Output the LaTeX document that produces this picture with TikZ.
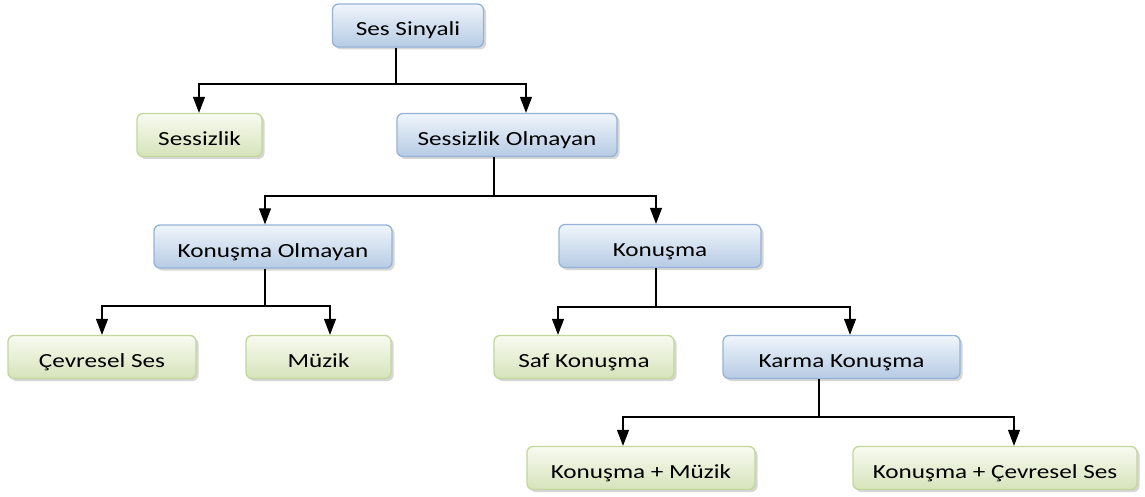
\documentclass[tikz,border=0pt]{standalone}
\usepackage{fontspec}
\setmainfont{Carlito}[FakeStretch=1.26]
\usetikzlibrary{arrows.meta,shadows}

\definecolor{blueedge}{HTML}{95B3D7}
\definecolor{bluetop}{HTML}{F0F5FB}
\definecolor{bluebot}{HTML}{B6CBE4}
\definecolor{greenedge}{HTML}{C3D69B}
\definecolor{greentop}{HTML}{F8FBF1}
\definecolor{greenbot}{HTML}{D6E3BA}

\tikzset{
  box/.style={rectangle, rounded corners=6pt, line width=1.3pt,
    minimum height=43pt, inner sep=0pt,
    text height=25pt, text depth=4pt,
    font=\fontsize{20}{24}\selectfont,
    drop shadow={shadow xshift=2.5pt, shadow yshift=-2.5pt, opacity=0.4, fill=gray!80}},
  bluebox/.style={box, draw=blueedge, top color=bluetop, bottom color=bluebot},
  greenbox/.style={box, draw=greenedge, top color=greentop, bottom color=greenbot},
  link/.style={draw=black, line width=1.1pt},
  arr/.style={link, -{Triangle[width=12pt,length=16pt]}}
}

\begin{document}
\begin{tikzpicture}[x=1pt,y=-1pt]
\useasboundingbox (0,0) rectangle (1145,497);

% tree nodes
\node[bluebox,  minimum width=151pt] (sinyal)   at (408,25.5)  {Ses Sinyali};
\node[greenbox, minimum width=125pt] (sessiz)   at (199.5,135) {Sessizlik};
\node[bluebox,  minimum width=220pt] (olmayan)  at (507,135)   {Sessizlik Olmayan};
\node[bluebox,  minimum width=238pt] (konolm)   at (273,246.5) {Konuşma Olmayan};
\node[bluebox,  minimum width=202pt] (konusma)  at (660,246)   {Konuşma};
\node[greenbox, minimum width=188pt] (cevre)    at (102,357)   {Çevresel Ses};
\node[greenbox, minimum width=145pt] (muzik)    at (318.5,357) {Müzik};
\node[greenbox, minimum width=180pt] (saf)      at (584,357)   {Saf Konuşma};
\node[bluebox,  minimum width=237pt] (karma)    at (841.5,357) {Karma Konuşma};
\node[greenbox, minimum width=228pt] (kmuzik)   at (641,468)   {Konuşma + Müzik};
\node[greenbox, minimum width=284pt] (kcevre)   at (995,468)   {Konuşma + Çevresel Ses};

% branch points and arrow columns
\coordinate (j1) at (396,84);   \coordinate (a1l) at (199,0);  \coordinate (a1r) at (526,0);
\coordinate (j2) at (494,196);  \coordinate (a2l) at (265,0);  \coordinate (a2r) at (656,0);
\coordinate (j3) at (265,306);  \coordinate (a3l) at (102,0);  \coordinate (a3r) at (330,0);
\coordinate (j4) at (656,307);  \coordinate (a4l) at (558,0);  \coordinate (a4r) at (850,0);
\coordinate (j5) at (819,417);  \coordinate (a5l) at (623,0);  \coordinate (a5r) at (1014,0);

% connectors
\draw[link] (sinyal.south -| j1) -- (j1);
\draw[arr] (j1) -| (sessiz.north -| a1l);
\draw[arr] (j1) -| (olmayan.north -| a1r);

\draw[link] (olmayan.south -| j2) -- (j2);
\draw[arr] (j2) -| (konolm.north -| a2l);
\draw[arr] (j2) -| (konusma.north -| a2r);

\draw[link] (konolm.south -| j3) -- (j3);
\draw[arr] (j3) -| (cevre.north -| a3l);
\draw[arr] (j3) -| (muzik.north -| a3r);

\draw[link] (konusma.south -| j4) -- (j4);
\draw[arr] (j4) -| (saf.north -| a4l);
\draw[arr] (j4) -| (karma.north -| a4r);

\draw[link] (karma.south -| j5) -- (j5);
\draw[arr] (j5) -| (kmuzik.north -| a5l);
\draw[arr] (j5) -| (kcevre.north -| a5r);
\end{tikzpicture}
\end{document}
